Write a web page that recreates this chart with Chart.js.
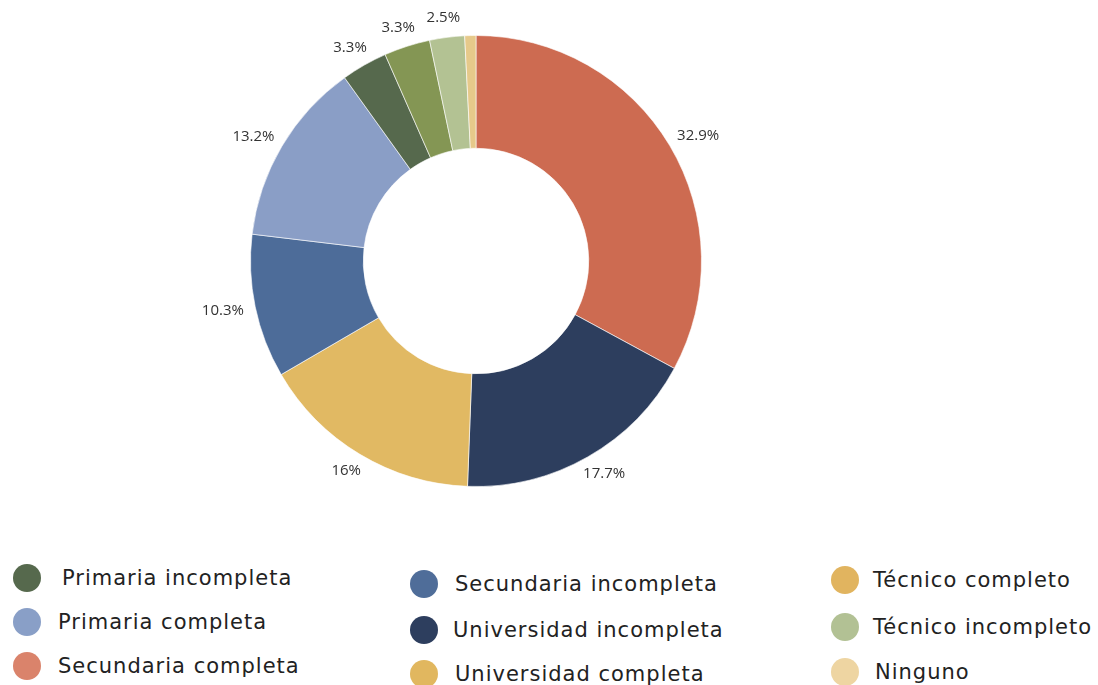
<!DOCTYPE html>
<html>
<head>
<meta charset="utf-8">
<script src="https://cdn.jsdelivr.net/npm/chart.js@4.4.0/dist/chart.umd.min.js"></script>
<style>
  html, body { margin: 0; padding: 0; background: #fff; }
  body { width: 1098px; height: 685px; position: relative; overflow: hidden; font-family: 'Open Sans', sans-serif; }
  #wrap { position: absolute; left: 0; top: 0; width: 952px; height: 522px; }
  .leg { position: absolute; font-family: 'DejaVu Sans', sans-serif; font-size: 21px; letter-spacing: 1px; color: #222; white-space: nowrap; }
  .dot { width: 28px; height: 28px; border-radius: 50%; position: absolute; }
</style>
</head>
<body>
<div id="wrap"><canvas id="chart"></canvas></div>
<div id="legend"></div>
<script>
// slices, clockwise from 12 o'clock
const sliceLabels = [
  'Secundaria completa', 'Universidad incompleta', 'Universidad completa',
  'Secundaria incompleta', 'Primaria completa', 'Primaria incompleta',
  'Técnico completo', 'Técnico incompleto', 'Ninguno'
];
const sliceValues = [32.9, 17.7, 16, 10.3, 13.2, 3.3, 3.3, 2.5, 0.8];
const sliceColors = [
  '#CD6B51', '#2D3E5E', '#E1B963', '#4D6C99', '#8A9EC6',
  '#56694D', '#849654', '#B3C293', '#E6C98A'
];

// legend (three columns, top to bottom)
const legendLabels = [
  'Primaria incompleta', 'Primaria completa', 'Secundaria completa',
  'Secundaria incompleta', 'Universidad incompleta', 'Universidad completa',
  'Técnico completo', 'Técnico incompleto', 'Ninguno'
];
const legendColors = [
  '#56694D', '#899FC7', '#DA836B',
  '#4F6D99', '#2D3E5E', '#E1B75F',
  '#E1B45F', '#B2C194', '#EED5A2'
];

// ── legend layout ──
const LEG_POS = [
  { dot: [13, 564], text: [62, 578] },
  { dot: [13, 608], text: [58, 622] },
  { dot: [13, 652], text: [58, 666] },
  { dot: [410, 570], text: [455, 584] },
  { dot: [410, 616], text: [453, 630] },
  { dot: [410, 660], text: [455, 674] },
  { dot: [831, 566], text: [873, 580] },
  { dot: [831, 613], text: [873, 627] },
  { dot: [831, 658], text: [875, 672] },
];
const legendEl = document.getElementById('legend');
legendLabels.forEach((name, i) => {
  const p = LEG_POS[i];
  const dot = document.createElement('div');
  dot.className = 'dot';
  dot.style.left = p.dot[0] + 'px';
  dot.style.top = p.dot[1] + 'px';
  dot.style.background = legendColors[i];
  legendEl.appendChild(dot);
  const t = document.createElement('div');
  t.className = 'leg';
  t.style.left = p.text[0] + 'px';
  t.style.top = (p.text[1] - 14) + 'px';
  t.style.lineHeight = '28px';
  t.textContent = name;
  legendEl.appendChild(t);
});

// ── outside percentage labels ──
const outsideLabels = {
  id: 'outsideLabels',
  afterDatasetsDraw(chart) {
    const ctx = chart.ctx;
    const arcs = chart.getDatasetMeta(0).data;
    ctx.save();
    ctx.font = "15px 'Open Sans', sans-serif";
    ctx.fillStyle = '#333';
    ctx.textAlign = 'center';
    ctx.textBaseline = 'middle';
    arcs.forEach((arc, i) => {
      const v = sliceValues[i];
      if (v < 1) return;
      const mid = (arc.startAngle + arc.endAngle) / 2;
      const ux = Math.cos(mid), uy = Math.sin(mid);
      const text = v + '%';
      const w = ctx.measureText(text).width, h = 15;
      const r = arc.outerRadius + 12;
      const x = arc.x + ux * r + ux * w / 2;
      const y = arc.y + uy * r + uy * h / 2;
      ctx.fillText(text, x, y);
    });
    ctx.restore();
  }
};

new Chart(document.getElementById('chart'), {
  type: 'doughnut',
  data: {
    labels: sliceLabels,
    datasets: [{
      data: sliceValues,
      backgroundColor: sliceColors,
      borderColor: 'rgba(255,255,255,0.6)',
      borderWidth: 1,
    }],
  },
  options: {
    responsive: true,
    maintainAspectRatio: false,
    animation: false,
    cutout: '50%',
    layout: { padding: 35 },
    plugins: {
      legend: { display: false },
      tooltip: { enabled: false },
    },
  },
  plugins: [outsideLabels],
});
</script>
</body>
</html>
